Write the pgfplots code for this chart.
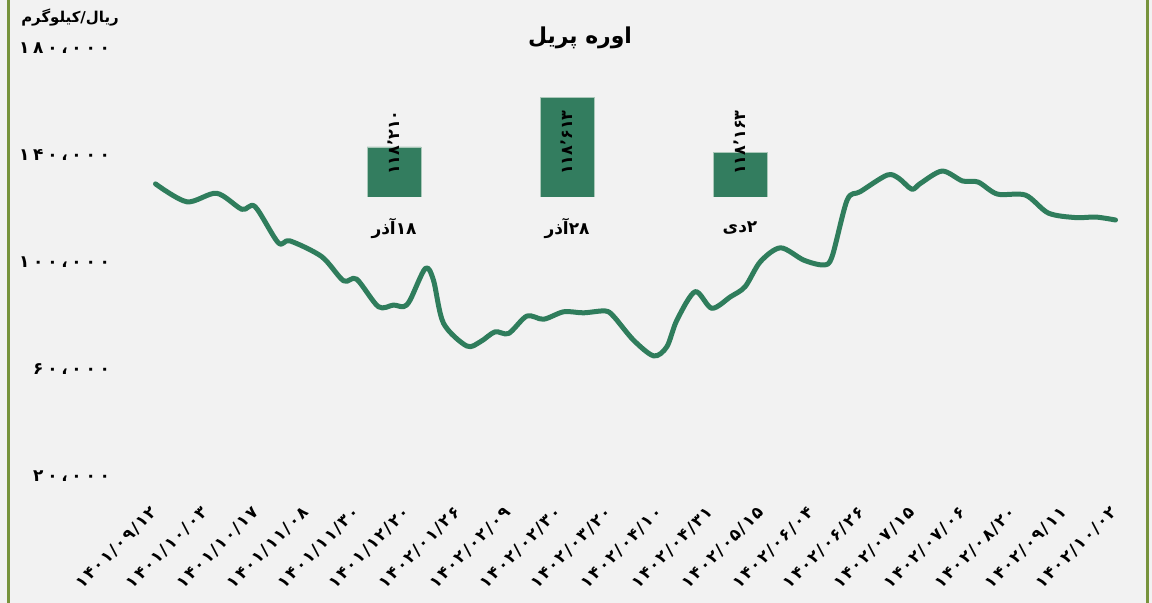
\documentclass[border=0pt]{standalone}
\usepackage{fontspec}
\usepackage{pgfplots}
\pgfplotsset{compat=1.18}
\TeXXeTstate=1
\newfontfamily\arabicfont[Script=Arabic]{DejaVu Sans}
\newfontfamily\numfont[Script=Arabic, LetterSpace=10]{DejaVu Sans}
\newfontfamily\ynumfont[Script=Arabic, LetterSpace=22]{DejaVu Sans}
\definecolor{linegreen}{RGB}{47,125,92}
\definecolor{bargreen}{RGB}{51,125,95}
\definecolor{bordergreen}{RGB}{119,147,60}
\definecolor{bg}{RGB}{242,242,242}
\begin{document}
\begin{tikzpicture}
\fill[bg] (0,0) rectangle (1152bp,603bp);
\draw[bordergreen, line width=3bp] (8.5bp,0) -- (8.5bp,603bp);
\draw[bordergreen, line width=3bp] (1147.5bp,0) -- (1147.5bp,603bp);
\begin{axis}[
 at={(155.5bp,127bp)}, anchor=south west, scale only axis,
 width=960bp, height=428bp,
 xmin=0, xmax=19, ymin=20000, ymax=180000,
 clip=false, scaled y ticks=false, scaled x ticks=false,
 axis line style={draw=none}, tick style={draw=none},
 xtick={0,...,19},
 xticklabels={۱۴۰۱/۰۹/۱۲,۱۴۰۱/۱۰/۰۳,۱۴۰۱/۱۰/۱۷,۱۴۰۱/۱۱/۰۸,۱۴۰۱/۱۱/۳۰,۱۴۰۱/۱۲/۲۰,۱۴۰۲/۰۱/۲۶,۱۴۰۲/۰۲/۰۹,۱۴۰۲/۰۲/۳۰,۱۴۰۲/۰۳/۲۰,۱۴۰۲/۰۴/۱۰,۱۴۰۲/۰۴/۳۱,۱۴۰۲/۰۵/۱۵,۱۴۰۲/۰۶/۰۴,۱۴۰۲/۰۶/۲۶,۱۴۰۲/۰۷/۱۵,۱۴۰۲/۰۷/۰۶,۱۴۰۲/۰۸/۲۰,۱۴۰۲/۰۹/۱۱,۱۴۰۲/۱۰/۰۲},
 xticklabel style={font=\numfont\bfseries\fontsize{16.5}{16.5}\selectfont, rotate=45, anchor=east, xshift=-21bp, yshift=-23bp},
 ytick={20000,60000,100000,140000,180000},
 yticklabels={۲۰،۰۰۰,۶۰،۰۰۰,۱۰۰،۰۰۰,۱۴۰،۰۰۰,۱۸۰،۰۰۰},
 yticklabel style={font=\ynumfont\bfseries\fontsize{17}{17}\selectfont, anchor=east, xshift=-42bp},
]
\addplot[linegreen, line width=5bp, smooth, line cap=round, line join=round] coordinates {
(0.00,129200) (0.62,122500) (1.21,125700) (1.71,119700) (1.97,120700)
(2.43,107200) (2.66,107900) (3.29,102000) (3.72,93000) (3.98,93600)
(4.41,83300) (4.71,83900) (4.91,83300) (5.04,85800) (5.34,97600)
(5.50,93300) (5.70,77100) (6.16,68600) (6.43,70200) (6.72,73900)
(6.99,73300) (7.35,79800) (7.68,78600) (8.08,81400) (8.47,81000)
(8.90,81700) (9.07,79600) (9.46,70800) (9.86,64900) (10.12,68300)
(10.32,78300) (10.68,88900) (11.01,82700) (11.38,87000) (11.67,90800)
(11.97,100100) (12.37,105300) (12.83,100700) (13.22,98900) (13.39,102000)
(13.69,123200) (13.95,126300) (14.48,132500) (14.71,131300) (14.97,127200)
(15.14,129400) (15.57,134000) (15.97,130300) (16.28,129900) (16.66,125400)
(17.22,125000) (17.67,118300) (18.21,116600) (18.61,116800) (19.00,115700)
};
\end{axis}
\begin{axis}[
 at={(307.5bp,406bp)}, anchor=south west, scale only axis,
 width=519bp, height=102.5bp,
 xmin=-0.5, xmax=2.5, ymin=117800, ymax=118640,
 scaled y ticks=false,
 axis line style={draw=none}, tick style={draw=none},
 ytick=\empty,
 xtick={0,1,2},
 xticklabels={\beginR ۱۸آذر\endR,\beginR ۲۸آذر\endR,\beginR ۲دی\endR},
 xticklabel style={font=\arabicfont\bfseries\fontsize{17}{17}\selectfont, anchor=center, yshift=-31bp},
]
\addplot[ybar, bar width=54bp, fill=bargreen, draw={rgb,255:red,170;green,200;blue,185}, line width=0.6bp] coordinates {(0,118210) (1,118613) (2,118163)};
\addplot[draw=none, mark=none, nodes near coords, point meta=explicit symbolic,
 nodes near coords style={rotate=90, anchor=west, inner sep=0pt, text=black, font=\arabicfont\bfseries\fontsize{16}{16}\selectfont}]
 coordinates {(0,117980) [۱۱۸٬۲۱۰] (1,117980) [۱۱۸٬۶۱۳] (2,117980) [۱۱۸٬۱۶۳]};
\end{axis}
\node[font=\arabicfont\bfseries\fontsize{22}{22}\selectfont] at (580bp,565bp) {\beginR اوره پریل\endR};
\node[font=\arabicfont\bfseries\fontsize{15}{15}\selectfont] at (70bp,585bp) {\beginR ریال/کیلوگرم\endR};
\pgfresetboundingbox
\useasboundingbox (0,0) rectangle (1152bp,603bp);
\end{tikzpicture}
\end{document}
